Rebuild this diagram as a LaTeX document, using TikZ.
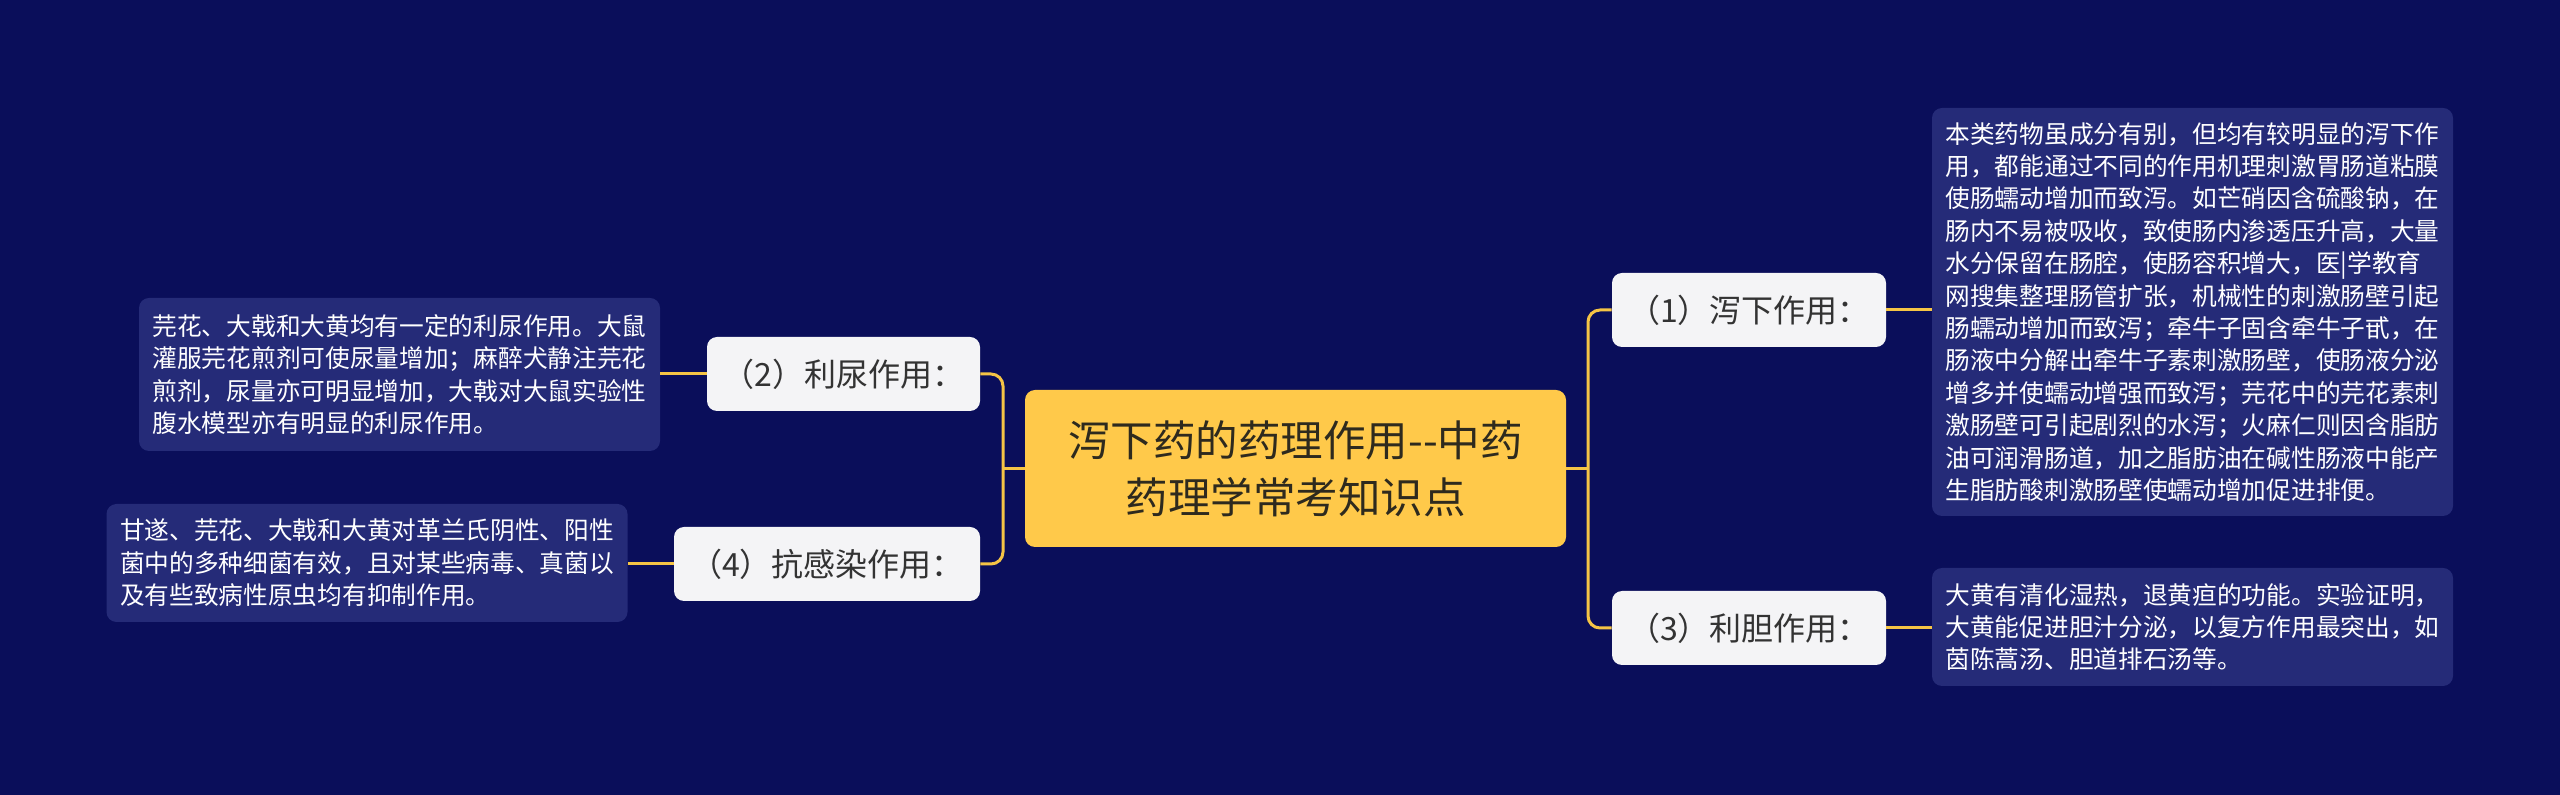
\documentclass[tikz,border=0pt]{standalone}
\usepackage{fontspec}
\setmainfont{Noto Sans CJK SC}
\definecolor{bgc}{HTML}{0A0E5A}
\definecolor{leafc}{HTML}{252B78}
\definecolor{centc}{HTML}{FFC94A}
\definecolor{branchc}{HTML}{F4F4F6}
\definecolor{connc}{HTML}{F5C445}
\definecolor{textc}{HTML}{333333}
\definecolor{ctext}{HTML}{2E2A1E}
\begin{document}
\begin{tikzpicture}[x=0.5pt,y=-0.5pt,
  conn/.style={draw=connc, line width=1.5pt, rounded corners=6pt},
  leafbox/.style={fill=leafc, rounded corners=5pt, inner xsep=6.5pt, inner ysep=0pt,
    align=left, text=white, font=\fontsize{12.35pt}{16.2pt}\selectfont, minimum width=260.5pt},
  branchbox/.style={fill=branchc, rounded corners=5pt, minimum height=37pt, inner sep=0pt,
    text=textc, font=\fontsize{16pt}{20pt}\selectfont},
  centerbox/.style={fill=centc, rounded corners=5pt, minimum width=270.5pt, minimum height=78.5pt,
    align=center, text=ctext, font=\fontsize{21.25pt}{28.5pt}\selectfont}]
\fill[bgc] (0,0) rectangle (2560,795);
\useasboundingbox (0,0) rectangle (2560,795);

\node[centerbox] (c) at (1295.5,468.5) {泻下药的药理作用-{}-中药\\药理学常考知识点};

\node[branchbox, minimum width=137pt] (b1) at (1749,310) {（1）泻下作用：};
\node[branchbox, minimum width=137pt] (b3) at (1749,628) {（3）利胆作用：};
\node[branchbox, minimum width=136.5pt] (b2) at (843.5,374) {（2）利尿作用：};
\node[branchbox, minimum width=153pt] (b4) at (827,564) {（4）抗感染作用：};

\node[leafbox, minimum height=204pt] (l1) at (2192.5,312) {本类药物虽成分有别，但均有较明显的泻下作\\
用，都能通过不同的作用机理刺激胃肠道粘膜\\
使肠蠕动增加而致泻。如芒硝因含硫酸钠，在\\
肠内不易被吸收，致使肠内渗透压升高，大量\\
水分保留在肠腔，使肠容积增大，医|学教育\\
网搜集整理肠管扩张，机械性的刺激肠壁引起\\
肠蠕动增加而致泻；牵牛子固含牵牛子甙，在\\
肠液中分解出牵牛子素刺激肠壁，使肠液分泌\\
增多并使蠕动增强而致泻；芫花中的芫花素刺\\
激肠壁可引起剧烈的水泻；火麻仁则因含脂肪\\
油可润滑肠道，加之脂肪油在碱性肠液中能产\\
生脂肪酸刺激肠壁使蠕动增加促进排便。};

\node[leafbox, minimum height=59pt] (l3) at (2192.5,627) {大黄有清化湿热，退黄疸的功能。实验证明，\\
大黄能促进胆汁分泌，以复方作用最突出，如\\
茵陈蒿汤、胆道排石汤等。};

\node[leafbox, minimum height=76.5pt] (l2) at (399.5,374.5) {芫花、大戟和大黄均有一定的利尿作用。大鼠\\
灌服芫花煎剂可使尿量增加；麻醉犬静注芫花\\
煎剂，尿量亦可明显增加，大戟对大鼠实验性\\
腹水模型亦有明显的利尿作用。};

\node[leafbox, minimum height=59pt] (l4) at (367,563) {甘遂、芫花、大戟和大黄对革兰氏阴性、阳性\\
菌中的多种细菌有效，且对某些病毒、真菌以\\
及有些致病性原虫均有抑制作用。};

\coordinate (jl) at (1003,470);
\coordinate (jr) at (1588,470);

\draw[conn] (c.west) -- (c.west -| jl);
\draw[conn] (b2.east) -| (jl) |- (b4.east);
\draw[conn] (c.east) -- (c.east -| jr);
\draw[conn] (b1.west) -| (jr) |- (b3.west);

\draw[conn] (b1.east) -- (b1.east -| l1.west);
\draw[conn] (b3.east) -- (b3.east -| l3.west);
\draw[conn] (b2.west) -- (b2.west -| l2.east);
\draw[conn] (b4.west) -- (b4.west -| l4.east);
\end{tikzpicture}
\end{document}
